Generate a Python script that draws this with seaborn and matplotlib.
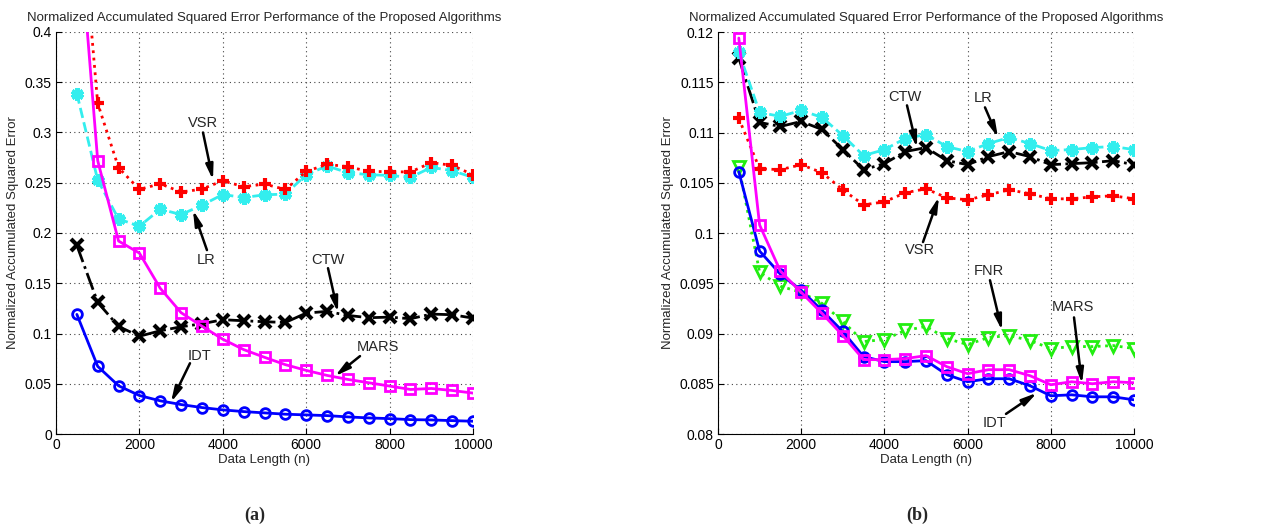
import numpy as np
import pandas as pd
import matplotlib
matplotlib.use('Agg')
import matplotlib.pyplot as plt
import seaborn as sns
from matplotlib.ticker import FuncFormatter

sns.set_style('white')
plt.rcParams['font.family'] = ['Liberation Sans', 'DejaVu Sans']

# data length (n)
n = list(range(500, 10001, 500))

# (a) panel
a_idt = [0.119, 0.0673, 0.048, 0.0383, 0.033, 0.0293, 0.0263, 0.024, 0.0223, 0.021,
         0.0197, 0.019, 0.0183, 0.017, 0.016, 0.0153, 0.0143, 0.014, 0.0133, 0.0127]
a_mars = [0.53, 0.272, 0.192, 0.180, 0.145, 0.1207, 0.1073, 0.0943, 0.084, 0.0763,
          0.069, 0.0633, 0.0583, 0.0543, 0.051, 0.0477, 0.0443, 0.0453, 0.0433, 0.0407]
a_vsr = [0.57, 0.329, 0.265, 0.2433, 0.249, 0.2407, 0.2437, 0.252, 0.246, 0.2487,
         0.2433, 0.2613, 0.2683, 0.266, 0.2613, 0.261, 0.2607, 0.27, 0.2673, 0.258]
a_lr = [0.3387, 0.2527, 0.214, 0.2067, 0.2237, 0.2183, 0.2277, 0.2383, 0.2353, 0.238,
        0.2387, 0.258, 0.2667, 0.26, 0.258, 0.2573, 0.2553, 0.2653, 0.262, 0.2553]
a_ctw = [0.1877, 0.131, 0.107, 0.0973, 0.1027, 0.1067, 0.1097, 0.1137, 0.1127, 0.1117,
         0.111, 0.1203, 0.122, 0.118, 0.1157, 0.1163, 0.1147, 0.1193, 0.1187, 0.1153]

# (b) panel
b_idt = [0.1061, 0.0982, 0.0959, 0.0943, 0.0923, 0.0902, 0.0877, 0.0872, 0.0872, 0.0873,
         0.0859, 0.0852, 0.0855, 0.0855, 0.0848, 0.0838, 0.0839, 0.0837, 0.0837, 0.0834]
b_mars = [0.1194, 0.1008, 0.0962, 0.0941, 0.092, 0.0898, 0.0874, 0.0874, 0.0875, 0.0878,
          0.0867, 0.086, 0.0864, 0.0864, 0.0858, 0.0849, 0.0852, 0.085, 0.0852, 0.0851]
b_fnr = [0.1066, 0.0961, 0.0947, 0.0941, 0.093, 0.0912, 0.0892, 0.0894, 0.0903, 0.0907,
         0.0895, 0.0889, 0.0896, 0.0898, 0.0893, 0.0885, 0.0887, 0.0887, 0.0888, 0.0885]
b_vsr = [0.1114, 0.1064, 0.1063, 0.1068, 0.106, 0.1043, 0.1028, 0.1031, 0.104, 0.1044,
         0.1035, 0.1033, 0.1038, 0.1043, 0.1039, 0.1034, 0.1034, 0.1036, 0.1037, 0.1034]
b_lr = [0.118, 0.112, 0.1116, 0.1122, 0.1115, 0.1097, 0.1077, 0.1083, 0.1094, 0.1098,
        0.1086, 0.1081, 0.1089, 0.1095, 0.1089, 0.1082, 0.1083, 0.1085, 0.1086, 0.1083]
b_ctw = [0.1174, 0.111, 0.1106, 0.1111, 0.1103, 0.1083, 0.1063, 0.1069, 0.1081, 0.1085,
         0.1072, 0.1068, 0.1076, 0.1081, 0.1076, 0.1068, 0.1069, 0.107, 0.1072, 0.1068]

# style per algorithm
styles = {
    'IDT':  dict(color='#0000ff', marker='o', ls='-'),
    'MARS': dict(color='#ff00ff', marker='s', ls='-'),
    'VSR':  dict(color='#ff0000', marker='+', ls=':'),
    'LR':   dict(color='#33eeee', marker=(6, 2, 0), ls='--'),
    'CTW':  dict(color='#000000', marker='x', ls='-.'),
    'FNR':  dict(color='#22ee11', marker='v', ls=':'),
}

W, H = 1281, 529
fig = plt.figure(figsize=(W / 100, H / 100), dpi=100)
ax1 = fig.add_axes([56 / W, (H - 434) / H, 417 / W, 402 / H])
ax2 = fig.add_axes([718 / W, (H - 434) / H, 416 / W, 402 / H])


def draw(ax, name, vals, order):
    st = styles[name]
    df = pd.DataFrame({'n': n, 'err': vals})
    m = st['marker']
    if m in ('o', 's', 'v'):
        kw = dict(markerfacecolor='none', markeredgecolor=st['color'],
                  markersize=7 if m != 'v' else 8, markeredgewidth=2)
    elif m in ('+', 'x'):
        kw = dict(markeredgecolor=st['color'], markersize=9 if m == '+' else 8,
                  markeredgewidth=3)
    else:
        kw = dict(markeredgecolor=st['color'], markersize=9, markeredgewidth=3.5)
    sns.lineplot(data=df, x='n', y='err', ax=ax, color=st['color'], marker=m,
                 linestyle=st['ls'], linewidth=2, zorder=order, **kw)


for i, (nm, v) in enumerate([('CTW', a_ctw), ('LR', a_lr), ('VSR', a_vsr),
                             ('IDT', a_idt), ('MARS', a_mars)]):
    draw(ax1, nm, v, 3 + i)
for i, (nm, v) in enumerate([('FNR', b_fnr), ('CTW', b_ctw), ('LR', b_lr), ('VSR', b_vsr),
                             ('IDT', b_idt), ('MARS', b_mars)]):
    draw(ax2, nm, v, 3 + i)

fmt = FuncFormatter(lambda v, p: '%g' % round(v, 6))
for ax, ylim, ystep in [(ax1, (0, 0.4), 0.05), (ax2, (0.08, 0.12), 0.005)]:
    ax.set_xlim(0, 10000)
    ax.set_ylim(*ylim)
    ax.set_xticks(np.arange(0, 10001, 2000))
    ax.set_yticks(np.arange(ylim[0], ylim[1] + ystep / 2, ystep))
    ax.yaxis.set_major_formatter(fmt)
    ax.grid(True, linestyle=(0, (1, 3)), color='#444444', linewidth=0.8)
    for s in ('top', 'right'):
        ax.spines[s].set_visible(False)
    for s in ('left', 'bottom'):
        ax.spines[s].set_color('black')
        ax.spines[s].set_linewidth(0.8)
    ax.tick_params(direction='in', length=4, width=0.8, labelsize=10, pad=3,
                   left=True, bottom=True, colors='black')
    ax.set_xlabel('Data Length (n)', fontsize=9.5, labelpad=1)
    ax.set_ylabel('Normalized Accumulated Squared Error', fontsize=9.5, labelpad=4)
    ax.set_title('Normalized Accumulated Squared Error Performance of the Proposed Algorithms',
                 fontsize=9.5, pad=8)

arrow = dict(arrowstyle='-|>,head_length=0.9,head_width=0.22', color='black', lw=1.8,
             shrinkA=0, shrinkB=0)

notes_a = [('VSR', (3525, 0.309), (3525, 0.300), (3765, 0.2527)),
           ('LR', (3597, 0.173), (3620, 0.183), (3285, 0.2228)),
           ('CTW', (6523, 0.173), (6523, 0.165), (6762, 0.121)),
           ('MARS', (7722, 0.0864), (7290, 0.0775), (6690, 0.0575)),
           ('IDT', (3430, 0.078), (3213, 0.0704), (2758, 0.0316))]
notes_b = [('CTW', (4495, 0.1135), (4543, 0.1127), (4784, 0.1085)),
           ('LR', (6370, 0.1134), (6418, 0.1125), (6731, 0.1095)),
           ('VSR', (4856, 0.0983), (4928, 0.0991), (5312, 0.1036)),
           ('FNR', (6514, 0.0962), (6538, 0.0953), (6827, 0.0903)),
           ('MARS', (8534, 0.0926), (8558, 0.0916), (8750, 0.0850)),
           ('IDT', (6635, 0.0811), (6923, 0.0820), (7668, 0.0841))]

for ax, notes in [(ax1, notes_a), (ax2, notes_b)]:
    for label, tpos, tail, tip in notes:
        ax.text(tpos[0], tpos[1], label, ha='center', va='center', fontsize=10.5, zorder=20)
        ax.annotate('', xy=tip, xytext=tail, arrowprops=arrow, zorder=20)

fig.text(255 / W, 1 - 515 / H, '(a)', ha='center', va='center', fontsize=13,
         fontweight='bold', family='Liberation Serif')
fig.text(917 / W, 1 - 515 / H, '(b)', ha='center', va='center', fontsize=13,
         fontweight='bold', family='Liberation Serif')

fig.savefig('out.png', dpi=100)
